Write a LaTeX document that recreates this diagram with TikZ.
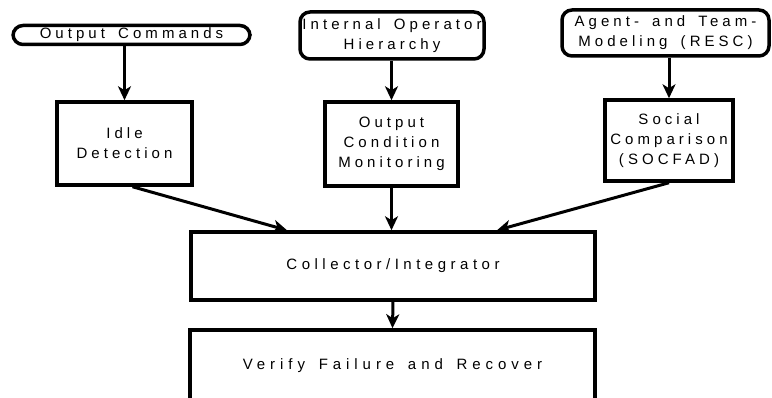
\documentclass[tikz,border=0pt]{standalone}
\usepackage{fontspec}
\setmainfont{Liberation Sans}[LetterSpace=27,WordSpace=1.6]
\newfontfamily\widefont{Liberation Sans}[LetterSpace=33,WordSpace=1.5]
\newfontfamily\midfont{Liberation Sans}[LetterSpace=30,WordSpace=1.6]
\usetikzlibrary{arrows.meta}
\begin{document}
\begin{tikzpicture}[x=1pt,y=1pt,
  box/.style={draw,line width=3.5pt,align=center,inner sep=0pt,font=\fontsize{15}{20}\selectfont},
  src/.style={box,rounded corners=10pt},
  wide/.style={box,font=\fontsize{15}{20}\selectfont\widefont},
  mid/.style={box,font=\fontsize{15}{20}\selectfont\midfont},
  arr/.style={-{Stealth[length=14pt,width=13pt,inset=4pt]},line width=3pt}]
\useasboundingbox (0,0) rectangle (772,398);
\clip (0,0) rectangle (772,398);
% sources
\node[src,minimum width=237,minimum height=19] (cmds) at (131.5,363) {Output Commands};
\node[src,minimum width=184,minimum height=47] (hier) at (392,362.5) {Internal Operator\\Hierarchy};
\node[src,minimum width=207,minimum height=46] (resc) at (665.5,365) {Agent- and Team-\\Modeling (RESC)};
% detectors
\node[box,minimum width=135,minimum height=83] (idle) at (124.5,254.5) {Idle\\Detection};
\node[box,minimum width=133,minimum height=84] (monitor) at (391.5,254) {Output\\Condition\\Monitoring};
\node[box,minimum width=128,minimum height=81] (social) at (669,257.5) {Social\\Comparison\\(SOCFAD)};
% integration
\node[mid,minimum width=404,minimum height=68] (collect) at (393,132) {Collector/Integrator};
\node[wide,minimum width=405,minimum height=72] (verify) at (392.5,32) {Verify Failure and Recover};
\draw[arr] (cmds.south -| idle.north) -- (idle.north);
\draw[arr] (hier.south -| monitor.north) -- (monitor.north);
\draw[arr] (resc.south -| social.north) -- (social.north);
\draw[arr] ([xshift=8pt]idle.south) -- ([xshift=-106pt]collect.north);
\draw[arr] (monitor.south) -- (monitor.south |- collect.north);
\draw[arr] (social.south) -- ([xshift=104pt]collect.north);
\draw[arr] (collect.south) -- (verify.north);
\end{tikzpicture}
\end{document}
